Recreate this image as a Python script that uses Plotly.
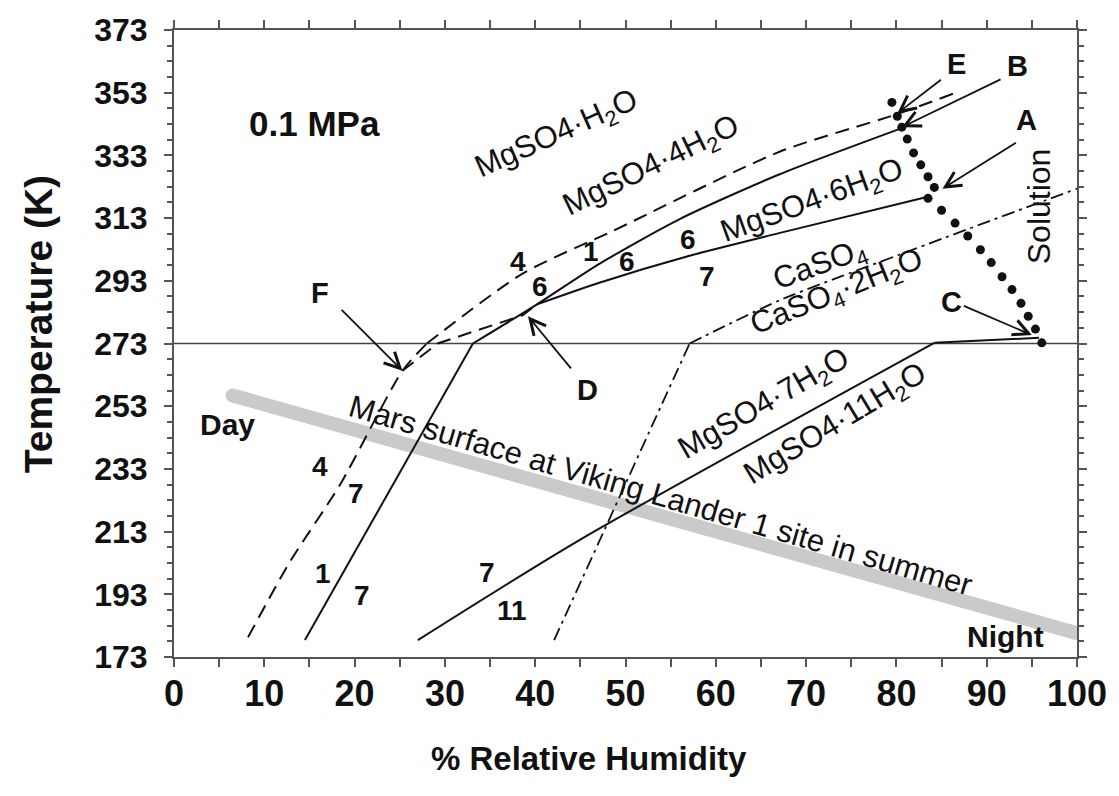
import plotly.graph_objects as go

# ---------------- data (RH %, T K) ----------------
# 4/1 boundary (dashed): below and above the 273 K kink
b41_low_rh = [8.2, 12.8, 18.4, 25.3, 28.0]
b41_low_t = [179.3, 203.2, 228.0, 264.3, 273.0]
b41_up_rh = [28.0, 38.6, 48.6, 67.0, 80.0, 86.4]
b41_up_t = [273.0, 295.3, 308.9, 334.1, 346.1, 352.8]

# 4/7 metastable boundary (dashed) from F to D
b47_rh = [25.3, 29.2, 38.6, 40.2]
b47_t = [264.3, 273.0, 282.0, 285.5]

# 1/7 boundary below 273 K, then 1/7 -> 1/6 above
b17_low_rh = [14.5, 33.1]
b17_low_t = [178.4, 273.0]
b16_rh = [33.1, 40.2, 47.1, 56.0, 67.0, 80.6]
b16_t = [273.0, 285.5, 298.4, 312.7, 326.9, 341.7]

# 6/7 boundary
b67_rh = [40.2, 47.1, 57.1, 67.0, 83.6]
b67_t = [285.5, 292.4, 301.0, 308.2, 319.9]

# 7/11 boundary and its continuation to C
b711_rh = [27.0, 44.9, 84.2]
b711_t = [178.4, 210.3, 273.2]
b7c_rh = [84.2, 95.8]
b7c_t = [273.2, 274.8]

# gypsum / anhydrite (dash-dot)
gyp_low_rh = [42.1, 57.1]
gyp_low_t = [178.4, 273.0]
gyp_up_rh = [57.1, 67.0, 80.3, 100.0]
gyp_up_t = [273.0, 286.7, 301.3, 322.4]

# deliquescence points (dotted curve)
sol_rh = [79.5, 80.1, 80.6, 81.2, 81.9, 82.7, 83.5, 84.2, 83.5, 85.0, 86.5, 87.9,
          89.3, 90.5, 91.7, 92.8, 93.8, 94.6, 95.4, 96.1]
sol_t = [349.9, 345.5, 342.0, 338.2, 333.8, 330.0, 326.2, 322.8, 319.3, 315.5, 311.4,
         307.3, 302.9, 298.8, 294.3, 290.2, 285.8, 281.7, 277.6, 273.2]

# Mars surface (Viking Lander 1, summer) day-night path
mars_rh = [6.5, 100.0]
mars_t = [256.4, 180.6]

ice_rh = [0, 100]
ice_t = [273, 273]

x_ticks = list(range(0, 101, 10))
y_ticks = list(range(173, 374, 20))

INK = "#111111"
FONT = "Liberation Sans"

fig = go.Figure()

fig.add_trace(go.Scatter(x=mars_rh, y=mars_t, mode="lines+markers",
                         line=dict(color="#cacaca", width=14),
                         marker=dict(color="#cacaca", size=14)))
fig.add_trace(go.Scatter(x=ice_rh, y=ice_t, mode="lines",
                         line=dict(color="#444444", width=1.6)))

DASH = "14px,8px"
for xs, ys, shape in [(b41_low_rh, b41_low_t, "spline"), (b41_up_rh, b41_up_t, "spline"),
                      (b47_rh, b47_t, "linear")]:
    fig.add_trace(go.Scatter(x=xs, y=ys, mode="lines",
                             line=dict(color=INK, width=2, dash=DASH, shape=shape, smoothing=0.7)))

for xs, ys, shape in [(b17_low_rh, b17_low_t, "linear"), (b16_rh, b16_t, "spline"),
                      (b67_rh, b67_t, "spline"), (b711_rh, b711_t, "spline"),
                      (b7c_rh, b7c_t, "linear")]:
    fig.add_trace(go.Scatter(x=xs, y=ys, mode="lines",
                             line=dict(color=INK, width=2, shape=shape, smoothing=0.7)))

DASHDOT = "13px,5px,3px,5px"
for xs, ys, shape in [(gyp_low_rh, gyp_low_t, "linear"), (gyp_up_rh, gyp_up_t, "spline")]:
    fig.add_trace(go.Scatter(x=xs, y=ys, mode="lines",
                             line=dict(color=INK, width=1.8, dash=DASHDOT, shape=shape,
                                       smoothing=0.7)))

fig.add_trace(go.Scatter(x=sol_rh, y=sol_t, mode="markers",
                         marker=dict(color=INK, size=9)))

ann = []

def label(x, y, text, size=31, angle=0, bold=False):
    ann.append(dict(x=x, y=y, xref="x", yref="y", text=f"<b>{text}</b>" if bold else text,
                    showarrow=False, textangle=angle,
                    font=dict(size=size, color=INK, family=FONT)))

label(15.6, 343.3, "0.1 MPa", size=35, bold=True)
label(42.4, 339.5, "MgSO4·H<sub>2</sub>O", angle=-24)
label(52.9, 329.4, "MgSO4·4H<sub>2</sub>O", angle=-26)
label(70.7, 318.0, "MgSO4·6H<sub>2</sub>O", angle=-20)
label(71.5, 297.8, "CaSO<sub>4</sub>", angle=-20)
label(73.5, 289.0, "CaSO<sub>4</sub>·2H<sub>2</sub>O", angle=-22)
label(95.8, 316.8, "Solution", size=32, angle=-90)
label(65.4, 253.3, "MgSO4·7H<sub>2</sub>O", angle=-30)
label(73.3, 246.9, "MgSO4·11H<sub>2</sub>O", angle=-31)
label(53.9, 224.5, "Mars surface at Viking Lander 1 site in summer", size=31, angle=16.2)
label(5.9, 247.2, "Day", size=30, bold=True)
label(92.1, 179.6, "Night", size=30, bold=True)

for x, y, t in [(86.6, 362.3, "E"), (93.4, 361.6, "B"), (94.4, 344.2, "A"),
                (86.1, 286.1, "C"), (45.8, 258.3, "D"), (16.2, 289.0, "F")]:
    label(x, y, t, size=29, bold=True)

for x, y, t in [(38.1, 299.1, "4"), (46.2, 302.2, "1"), (40.5, 291.2, "6"),
                (50.2, 299.1, "6"), (56.9, 306.3, "6"), (59.0, 294.3, "7"),
                (16.2, 233.7, "4"), (20.2, 225.1, "7"), (16.5, 199.5, "1"),
                (20.8, 192.6, "7"), (34.7, 199.9, "7"), (37.4, 187.8, "11")]:
    label(x, y, t, size=28, bold=True)

# arrows: (head x, head y, tail x, tail y)
for hx, hy, tx, ty in [(80.1, 346.4, 85.1, 357.5), (80.6, 342.0, 91.7, 357.5),
                       (85.1, 322.4, 93.4, 337.3), (95.0, 275.7, 87.3, 285.2),
                       (39.2, 281.7, 44.1, 264.6), (25.3, 264.3, 18.4, 284.2)]:
    ann.append(dict(x=hx, y=hy, xref="x", yref="y", ax=tx, ay=ty, axref="x", ayref="y",
                    text="", showarrow=True, arrowhead=5, arrowsize=1.7,
                    arrowwidth=1.8, arrowcolor=INK))

# axis titles
ann.append(dict(x=0.46, y=-0.162, xref="paper", yref="paper", showarrow=False,
                text="<b>% Relative Humidity</b>", yanchor="middle",
                font=dict(size=33, color=INK, family=FONT)))
ann.append(dict(x=-0.150, y=0.53, xref="paper", yref="paper", showarrow=False,
                text="<b>Temperature (K)</b>", textangle=-90,
                xanchor="center", yanchor="middle",
                font=dict(size=39, color=INK, family=FONT)))

axis_common = dict(showline=True, linecolor="#555555", linewidth=2, mirror="ticks",
                   ticks="outside", ticklen=8, tickwidth=1.5, tickcolor="#555555",
                   showgrid=False, zeroline=False)

fig.update_layout(
    width=1119, height=796,
    margin=dict(l=174, r=41, t=24, b=139),
    paper_bgcolor="white", plot_bgcolor="white",
    showlegend=False,
    font=dict(family=FONT, color=INK),
    annotations=ann,
    xaxis=dict(range=[0, 100], tickvals=x_ticks, ticktext=[str(v) for v in x_ticks],
               tickfont=dict(size=36, family=FONT, color=INK, weight="bold"),
               ticklabelstandoff=-4,
               minor=dict(dtick=5, ticks="outside", ticklen=8, tickcolor="#555555"),
               **axis_common),
    yaxis=dict(range=[173, 373], tickvals=y_ticks, ticktext=[str(v) for v in y_ticks],
               tickfont=dict(size=32, family=FONT, color=INK, weight="bold"),
               ticklabelstandoff=10,
               minor=dict(dtick=5, tick0=173, ticks="outside", ticklen=5, tickcolor="#555555"),
               **axis_common),
)

fig.write_html("out.html")
